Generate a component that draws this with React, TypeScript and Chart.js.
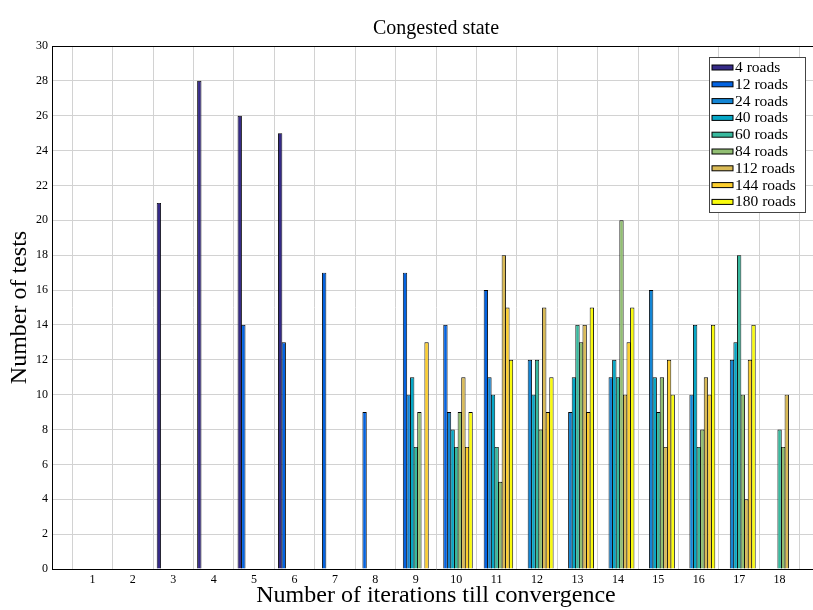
import { useEffect, useRef } from 'react';
import { Chart, registerables } from 'chart.js';

Chart.register(...registerables);

// Iteration counts on the x axis
const iterations = [1, 2, 3, 4, 5, 6, 7, 8, 9, 10, 11, 12, 13, 14, 15, 16, 17, 18];

// Number of tests per iteration count, one series per road-network size
const roads4 = [0, 0, 21, 28, 26, 25, 0, 0, 0, 0, 0, 0, 0, 0, 0, 0, 0, 0];
const roads12 = [0, 0, 0, 0, 14, 13, 17, 9, 17, 14, 16, 0, 0, 0, 0, 0, 0, 0];
const roads24 = [0, 0, 0, 0, 0, 0, 0, 0, 10, 9, 11, 12, 9, 11, 16, 10, 12, 0];
const roads40 = [0, 0, 0, 0, 0, 0, 0, 0, 11, 8, 10, 10, 11, 12, 11, 14, 13, 0];
const roads60 = [0, 0, 0, 0, 0, 0, 0, 0, 7, 7, 7, 12, 14, 11, 9, 7, 18, 8];
const roads84 = [0, 0, 0, 0, 0, 0, 0, 0, 9, 9, 5, 8, 13, 20, 11, 8, 10, 7];
const roads112 = [0, 0, 0, 0, 0, 0, 0, 0, 0, 11, 18, 15, 14, 10, 7, 11, 4, 10];
const roads144 = [0, 0, 0, 0, 0, 0, 0, 0, 13, 7, 15, 9, 9, 13, 12, 10, 12, 0];
const roads180 = [0, 0, 0, 0, 0, 0, 0, 0, 0, 9, 12, 11, 15, 15, 10, 14, 14, 0];

const seriesLabels = ['4 roads', '12 roads', '24 roads', '40 roads', '60 roads', '84 roads', '112 roads', '144 roads', '180 roads'];
const seriesValues = [roads4, roads12, roads24, roads40, roads60, roads84, roads112, roads144, roads180];
const seriesColors = ['#352a87', '#0363e1', '#1485d4', '#06a7c6', '#38b99e', '#92bf73', '#d9ba56', '#fcce2e', '#f9fb0e'];

const yTickValues = [0, 2, 4, 6, 8, 10, 12, 14, 16, 18, 20, 22, 24, 26, 28, 30];

const SERIF = '"Liberation Serif", "Times New Roman", serif';
const GRID = '#d2d2d2';

// Closes the plot box along the top edge
const framePlugin = {
  id: 'frame',
  afterDatasetsDraw(chart: any) {
    const { ctx, chartArea } = chart;
    ctx.save();
    ctx.strokeStyle = '#000';
    ctx.lineWidth = 1;
    ctx.beginPath();
    ctx.moveTo(chartArea.left, chartArea.top + 0.5);
    ctx.lineTo(chartArea.right, chartArea.top + 0.5);
    ctx.stroke();
    ctx.restore();
  },
};

// Boxed legend inside the upper-right corner of the plot
const boxLegendPlugin = {
  id: 'boxLegend',
  afterDraw(chart: any) {
    const { ctx, chartArea } = chart;
    const sets = chart.data.datasets;
    const right = chartArea.right - 15;
    const left = right - 96;
    const top = chartArea.top + 11;
    const rowH = 16.8;
    const bottom = top + rowH * sets.length + 4;
    ctx.save();
    ctx.fillStyle = '#fff';
    ctx.fillRect(left, top, right - left, bottom - top);
    ctx.strokeStyle = '#444';
    ctx.lineWidth = 1;
    ctx.strokeRect(Math.round(left) + 0.5, Math.round(top) + 0.5, Math.round(right - left), Math.round(bottom - top));
    ctx.font = `15.5px ${SERIF}`;
    ctx.textBaseline = 'middle';
    ctx.textAlign = 'left';
    sets.forEach((ds: any, i: number) => {
      const cy = top + 10.5 + i * rowH;
      const sx = left + 3;
      ctx.fillStyle = ds.backgroundColor;
      ctx.fillRect(sx, cy - 2.5, 21, 5);
      ctx.strokeStyle = '#000';
      ctx.strokeRect(sx, cy - 2.5, 21, 5);
      ctx.fillStyle = '#000';
      ctx.fillText(ds.label, sx + 23, cy + 0.5);
    });
    ctx.restore();
  },
};

export default function App() {
  const canvasRef = useRef<HTMLCanvasElement | null>(null);

  useEffect(() => {
    const canvas = canvasRef.current;
    if (!canvas) return;

    const datasets = seriesLabels.map((label, s) => ({
      label,
      data: iterations.map((x, i) => ({ x, y: seriesValues[s][i] })),
      backgroundColor: seriesColors[s],
      borderColor: '#000',
      borderWidth: 0.9,
      categoryPercentage: 0.8,
      barPercentage: 1.2,
    }));

    const chart = new Chart(canvas, {
      type: 'bar',
      data: { datasets },
      options: {
        responsive: false,
        animation: false,
        layout: { padding: 0 },
        plugins: {
          legend: { display: false },
          tooltip: { enabled: false },
          title: {
            display: true,
            text: 'Congested state',
            fullSize: false,
            color: '#000',
            font: { family: SERIF, size: 20, weight: 'normal' },
            padding: { top: 17, bottom: 5 },
          },
        },
        scales: {
          x: {
            type: 'linear',
            min: 0,
            max: 19,
            offset: false,
            afterBuildTicks: (scale: any) => {
              scale.ticks = iterations.map((v) => ({ value: v }));
            },
            afterFit: (scale: any) => {
              scale.height = 41;
            },
            ticks: {
              autoSkip: false,
              maxRotation: 0,
              padding: 4,
              color: '#000',
              font: { family: SERIF, size: 12 },
              callback: (v: any) => String(v),
            },
            grid: { color: GRID, lineWidth: 1, drawTicks: false },
            border: { display: true, color: '#000', width: 1 },
            title: {
              display: true,
              text: 'Number of iterations till convergence',
              color: '#000',
              font: { family: SERIF, size: 24 },
              padding: { top: 0, bottom: 0 },
            },
          },
          y: {
            min: 0,
            max: 30,
            afterBuildTicks: (scale: any) => {
              scale.ticks = yTickValues.map((v) => ({ value: v }));
            },
            afterFit: (scale: any) => {
              scale.width = 52;
            },
            ticks: {
              padding: 4,
              color: '#000',
              font: { family: SERIF, size: 12 },
            },
            grid: { color: GRID, lineWidth: 1, drawTicks: false },
            border: { display: true, color: '#000', width: 1 },
            title: {
              display: true,
              text: 'Number of tests',
              color: '#000',
              font: { family: SERIF, size: 24 },
              padding: { top: 5, bottom: 0 },
            },
          },
        },
      } as any,
      plugins: [framePlugin, boxLegendPlugin],
    });

    return () => chart.destroy();
  }, []);

  return (
    <div style={{ position: 'fixed', left: 0, top: 0, width: 813, height: 610, overflow: 'hidden', background: '#fff' }}>
      <canvas ref={canvasRef} width={820} height={610} style={{ display: 'block' }} />
    </div>
  );
}
